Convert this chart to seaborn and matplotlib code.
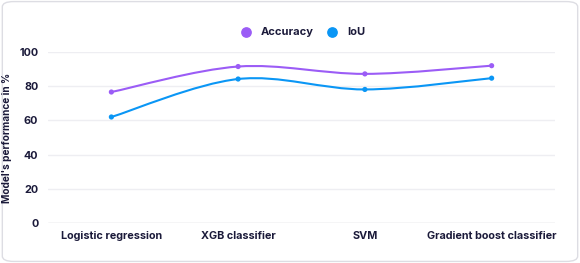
import numpy as np
import matplotlib
matplotlib.use('Agg')
import matplotlib.pyplot as plt
import seaborn as sns
from matplotlib.path import Path
from matplotlib.patches import PathPatch, FancyBboxPatch

models = ['Logistic regression', 'XGB classifier', 'SVM', 'Gradient boost classifier']
accuracy = [76.6, 91.5, 87.2, 92.0]
iou = [62.0, 84.2, 78.1, 84.7]
yticks = [0, 20, 40, 60, 80, 100]

c_acc = '#9B5CF6'
c_iou = '#0A96F5'
ink = '#1B1A3A'

sns.set_theme(style='white')
plt.rcParams['font.family'] = ['Inter', 'DejaVu Sans']


def smooth_path(xs, ys):
    # catmull-rom style bezier through the points
    pts = np.column_stack([xs, ys]).astype(float)
    verts = [pts[0]]
    codes = [Path.MOVETO]
    n = len(pts)
    for i in range(n - 1):
        p0 = pts[i - 1] if i > 0 else pts[i]
        p1 = pts[i]
        p2 = pts[i + 1]
        p3 = pts[i + 2] if i + 2 < n else pts[i + 1]
        c1 = p1 + (p2 - p0) / 6
        c2 = p2 - (p3 - p1) / 6
        verts += [c1, c2, p2]
        codes += [Path.CURVE4] * 3
    return Path(verts, codes)


fig = plt.figure(figsize=(5.8, 2.63), dpi=100)
card = FancyBboxPatch((0.004, 0.006), 0.992, 0.988, boxstyle='round,pad=0,rounding_size=0.02',
                      transform=fig.transFigure, facecolor='white', edgecolor='#DDDDE3', linewidth=1,
                      zorder=-5)
fig.patches.append(card)

ax = fig.add_axes([48 / 580, 40 / 263, 507 / 580, 171 / 263])
ax.set_facecolor('none')
xpos = np.arange(len(models))

for vals, col in [(accuracy, c_acc), (iou, c_iou)]:
    ax.add_patch(PathPatch(smooth_path(xpos, vals), facecolor='none', edgecolor=col, lw=1.5, zorder=3))
    sns.scatterplot(x=xpos, y=vals, color=col, s=14, edgecolor='none', ax=ax, zorder=4)

ax.set_xlim(-0.5, 3.5)
ax.set_ylim(0, 100)
ax.set_yticks(yticks)
ax.set_xticks(xpos)
ax.set_xticklabels(models)
for y in yticks[1:]:
    ax.axhline(y, color='#EEEEF2', lw=1, zorder=1)
ax.axhline(0, color='#CFCFD6', lw=1, zorder=1)
sns.despine(ax=ax, left=True, bottom=True, top=True, right=True)
ax.tick_params(axis='both', length=0, labelsize=7.8, labelcolor=ink)
ax.tick_params(axis='y', pad=7)
ax.tick_params(axis='x', pad=6)
for lab in ax.get_xticklabels() + ax.get_yticklabels():
    lab.set_fontweight('bold')
ax.set_ylabel("Model's performance in %", fontsize=7.3, fontweight='bold', color=ink)
ax.yaxis.set_label_coords(-0.071, 0.5)

# legend
for label, col in [('Accuracy', c_acc), ('IoU', c_iou)]:
    ax.scatter([], [], color=col, s=45, label=label)
leg = fig.legend(loc='center', bbox_to_anchor=(300 / 580, 1 - 32 / 263), ncol=2, frameon=False,
                 fontsize=8, handletextpad=0.3, columnspacing=0.7, markerscale=1)
for t in leg.get_texts():
    t.set_fontweight('bold')
    t.set_color(ink)

fig.savefig('out.png', dpi=100)
